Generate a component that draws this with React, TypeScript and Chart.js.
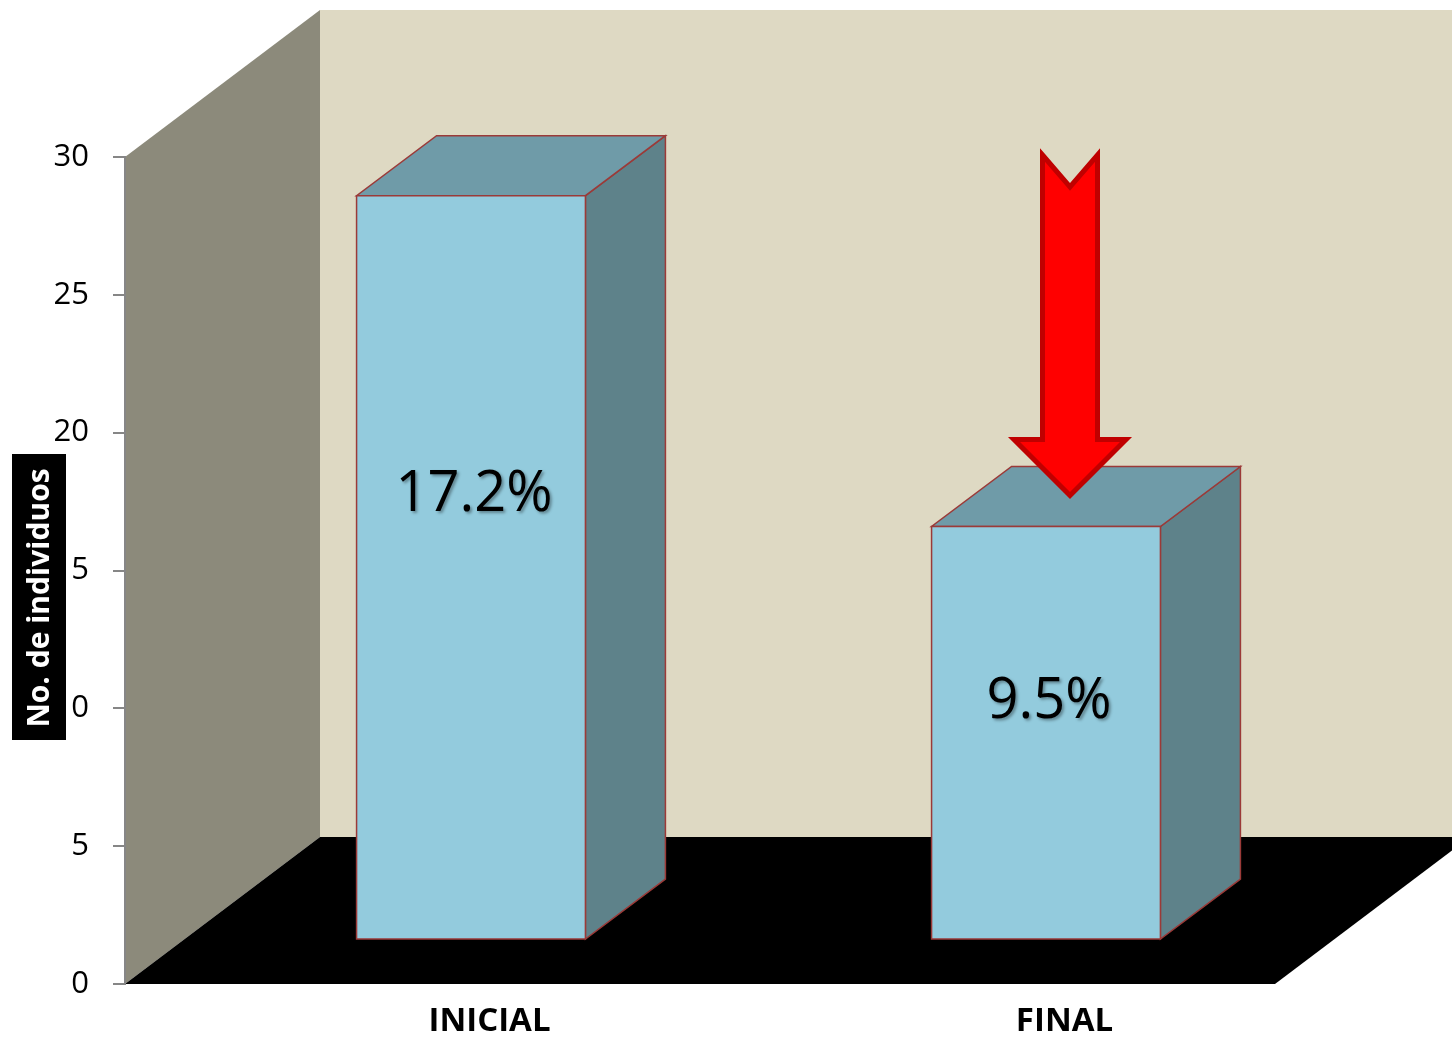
import React, { useEffect, useRef } from "react";
import { Chart, registerables } from "chart.js";

Chart.register(...registerables);

const categories = ["INICIAL", "FINAL"];
const values = [27, 15];
const pctLabels = ["17.2%", "9.5%"];
const yTicks = [0, 5, 10, 15, 20, 25, 30];
const yTitle = "No. de individuos";

const FONT = "'Open Sans', 'Liberation Sans', sans-serif";

const threeD = {
  id: "threeD",
  beforeDraw(chart: any) {
    const { ctx, chartArea: a, width } = chart;
    const DX = 195, DY = -147;
    ctx.save();
    // left wall
    ctx.fillStyle = "#8C8A7B";
    ctx.beginPath();
    ctx.moveTo(a.left, a.top);
    ctx.lineTo(a.left + DX, a.top + DY);
    ctx.lineTo(a.left + DX, a.bottom + DY);
    ctx.lineTo(a.left, a.bottom);
    ctx.closePath();
    ctx.fill();
    // back wall
    ctx.fillStyle = "#DED9C3";
    ctx.fillRect(a.left + DX, a.top + DY, width - (a.left + DX), a.bottom - a.top);
    // floor
    ctx.fillStyle = "#000000";
    ctx.beginPath();
    ctx.moveTo(a.left, a.bottom);
    ctx.lineTo(a.left + DX, a.bottom + DY);
    ctx.lineTo(a.right + DX, a.bottom + DY);
    ctx.lineTo(a.right, a.bottom);
    ctx.closePath();
    ctx.fill();
    ctx.restore();
  },
  afterDatasetsDraw(chart: any) {
    const { ctx } = chart;
    const yScale = chart.scales.y;
    const meta = chart.getDatasetMeta(0);
    const FX = 58.5, FY = -44;
    const BDX = 80, BDY = -60;
    ctx.save();
    ctx.lineJoin = "miter";
    meta.data.forEach((el: any, i: number) => {
      const p = el.getProps(["x", "y", "base", "width"], true);
      const x0 = p.x - p.width / 2 + FX;
      const x1 = p.x + p.width / 2 + FX;
      const yT = p.y + FY;
      const yB = p.base + FY;
      const stroke = (path: () => void, fill: string) => {
        ctx.beginPath();
        path();
        ctx.closePath();
        ctx.fillStyle = fill;
        ctx.fill();
        ctx.strokeStyle = "#9B3A38";
        ctx.lineWidth = 1.5;
        ctx.stroke();
      };
      // side
      stroke(() => {
        ctx.moveTo(x1, yT);
        ctx.lineTo(x1 + BDX, yT + BDY);
        ctx.lineTo(x1 + BDX, yB + BDY);
        ctx.lineTo(x1, yB);
      }, "#5E828A");
      // top
      stroke(() => {
        ctx.moveTo(x0, yT);
        ctx.lineTo(x1, yT);
        ctx.lineTo(x1 + BDX, yT + BDY);
        ctx.lineTo(x0 + BDX, yT + BDY);
      }, "#6F9BA8");
      // front
      stroke(() => {
        ctx.rect(x0, yT, x1 - x0, yB - yT);
      }, "#93CBDD");
      // percent label
      const v = values[i];
      const ly = yScale.getPixelForValue(v * 0.6257) + FY + 20.75;
      ctx.save();
      ctx.font = `56px ${FONT}`;
      ctx.fillStyle = "#000";
      ctx.textAlign = "center";
      ctx.textBaseline = "middle";
      ctx.shadowColor = "rgba(0,0,0,0.35)";
      ctx.shadowBlur = 3;
      ctx.shadowOffsetX = 2;
      ctx.shadowOffsetY = 2;
      ctx.fillText(pctLabels[i], (x0 + x1) / 2 + 3, ly);
      ctx.restore();
    });

    // red arrow above the last bar
    const last = meta.data[meta.data.length - 1].getProps(["x", "y"], true);
    const cx = last.x + FX + 24;
    const tip = last.y + FY - 31;
    const top = chart.chartArea.top - 2;
    const sw = 27.5, hw = 56, hh = 56, notch = 32;
    ctx.beginPath();
    ctx.moveTo(cx - sw, top);
    ctx.lineTo(cx, top + notch);
    ctx.lineTo(cx + sw, top);
    ctx.lineTo(cx + sw, tip - hh);
    ctx.lineTo(cx + hw, tip - hh);
    ctx.lineTo(cx, tip);
    ctx.lineTo(cx - hw, tip - hh);
    ctx.lineTo(cx - sw, tip - hh);
    ctx.closePath();
    ctx.fillStyle = "#FF0000";
    ctx.fill();
    ctx.strokeStyle = "#C00000";
    ctx.lineWidth = 5;
    ctx.stroke();
    ctx.restore();
  },
  afterDraw(chart: any) {
    const { ctx } = chart;
    ctx.save();
    ctx.fillStyle = "#000";
    ctx.fillRect(12, 454, 54, 286);
    ctx.translate(40, 598);
    ctx.rotate(-Math.PI / 2);
    ctx.fillStyle = "#fff";
    ctx.font = `bold 30px ${FONT}`;
    ctx.textAlign = "center";
    ctx.textBaseline = "middle";
    ctx.fillText(yTitle, 0, 0);
    ctx.restore();
  },
};

export default function App() {
  const ref = useRef<HTMLCanvasElement>(null);
  useEffect(() => {
    if (!ref.current) return;
    const chart = new Chart(ref.current, {
      type: "bar",
      data: {
        labels: categories,
        datasets: [
          {
            data: values,
            backgroundColor: "rgba(0,0,0,0)",
            borderWidth: 0,
            categoryPercentage: 1,
            barPercentage: 0.398,
          },
        ],
      },
      options: {
        responsive: true,
        maintainAspectRatio: false,
        animation: false,
        layout: { padding: { top: 157, right: 177, left: 0, bottom: 0 } },
        plugins: { legend: { display: false }, tooltip: { enabled: false } },
        scales: {
          y: {
            min: 0,
            max: 30,
            afterBuildTicks: (s: any) => {
              s.ticks = yTicks.map((v) => ({ value: v }));
            },
            afterFit: (s: any) => {
              s.width = 125;
            },
            ticks: {
              font: { family: FONT, size: 31 },
              color: "#000",
              padding: 24,
            },
            grid: { drawOnChartArea: false, tickLength: 12, color: "#868686", lineWidth: 2 },
            border: { color: "#868686", width: 2 },
          },
          x: {
            afterFit: (s: any) => {
              s.height = 55;
            },
            grid: { display: false },
            border: { display: false },
            ticks: {
              font: { family: FONT, size: 33, weight: "bold" },
              color: "#000",
              padding: 10,
              labelOffset: 77,
              maxRotation: 0,
            },
          },
        },
      },
      plugins: [threeD],
    });
    return () => chart.destroy();
  }, []);
  return (
    <div style={{ position: "fixed", left: 0, top: 0, width: 1452, height: 1039, background: "#fff" }}>
      <canvas ref={ref} />
    </div>
  );
}
